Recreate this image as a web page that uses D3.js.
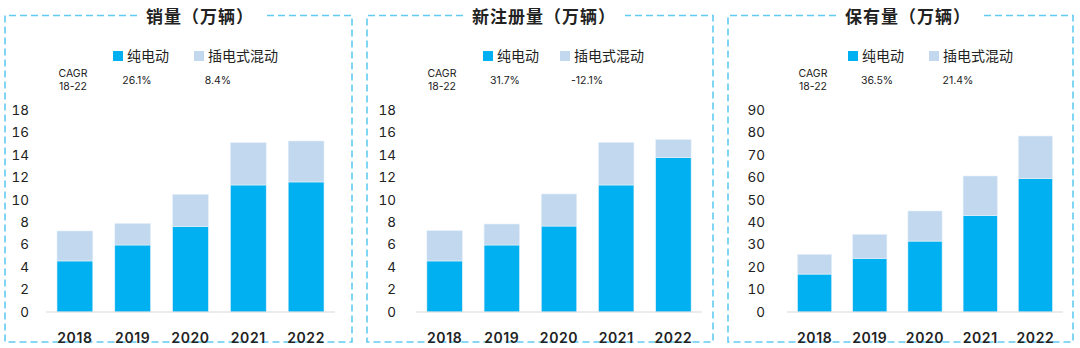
<!DOCTYPE html>
<html>
<head>
<meta charset="utf-8">
<script src="https://cdn.jsdelivr.net/npm/d3@7"></script>
<style>
  body { margin: 0; background: #fff; }
  svg { display: block; font-family: "Inter", "Noto Sans CJK SC", sans-serif; }
</style>
</head>
<body>
<svg id="chart" width="1080" height="348"></svg>
<script>
var years = ["2018", "2019", "2020", "2021", "2022"];
var seriesNames = ["纯电动", "插电式混动"];

// 销量
var salesBev = [4.55, 5.97, 7.6, 11.32, 11.59];
var salesPhev = [2.67, 1.93, 2.89, 3.77, 3.65];
// 新注册量
var regBev = [4.55, 5.97, 7.66, 11.32, 13.75];
var regPhev = [2.7, 1.87, 2.86, 3.8, 1.62];
// 保有量
var stockBev = [16.9, 23.9, 31.6, 42.9, 59.4];
var stockPhev = [8.8, 10.7, 13.4, 17.7, 19.0];

var titles = ["销量（万辆）", "新注册量（万辆）", "保有量（万辆）"];
var cagrLabels = [["26.1%", "8.4%"], ["31.7%", "-12.1%"], ["36.5%", "21.4%"]];
var yMax = [18, 18, 90];
var yStep = [2, 2, 10];

var colors = ["#00b0f0", "#c1d8ee"];

var panels = [
    { bev: salesBev, phev: salesPhev, box: [5, 352], title: 200, legend: [113, 194], cagr: [73, 137, 218], axis: [46, 335], tickRight: 29 },
    { bev: regBev, phev: regPhev, box: [367, 713], title: 544, legend: [483, 560], cagr: [442, 505, 587], axis: [416, 702], tickRight: 396 },
    { bev: stockBev, phev: stockPhev, box: [728, 1073], title: 908, legend: [848, 929], cagr: [813, 877, 958], axis: [787, 1063], tickRight: 765 }
];

var svg = d3.select("#chart");
var boxTop = 15.5, boxBottom = 342, plotBase = 312, plotTop = 110;

panels.forEach(function (p, i) {
    var g = svg.append("g");

    var titleText = g.append("text")
        .attr("x", p.title)
        .attr("y", 23)
        .attr("text-anchor", "middle")
        .attr("font-size", 17)
        .attr("font-weight", 700)
        .attr("letter-spacing", 1)
        .attr("fill", "#222")
        .text(titles[i]);
    var tw = titleText.node().getComputedTextLength();
    var gapL = p.title - tw / 2 - 9, gapR = p.title + tw / 2 + 9;

    // dashed frame, broken around the title
    var framePath = "M" + gapL + "," + boxTop + "H" + p.box[0] + "V" + boxBottom +
        "H" + p.box[1] + "V" + boxTop + "H" + gapR;
    g.append("path")
        .attr("d", framePath)
        .attr("fill", "none")
        .attr("stroke", "#62cbf2")
        .attr("stroke-width", 1.6)
        .attr("stroke-dasharray", "7,4");

    // legend
    seriesNames.forEach(function (name, k) {
        g.append("rect")
            .attr("x", p.legend[k])
            .attr("y", 51)
            .attr("width", 10)
            .attr("height", 10)
            .attr("fill", colors[k]);
        g.append("text")
            .attr("x", p.legend[k] + 14)
            .attr("y", 61)
            .attr("font-size", 14)
            .attr("fill", "#222")
            .text(name);
    });

    // CAGR row
    var cagr = g.append("text")
        .attr("x", p.cagr[0])
        .attr("text-anchor", "middle")
        .attr("font-size", 10.5)
        .attr("fill", "#222");
    cagr.append("tspan").attr("x", p.cagr[0]).attr("y", 77).text("CAGR");
    cagr.append("tspan").attr("x", p.cagr[0]).attr("y", 90).text("18-22");
    cagrLabels[i].forEach(function (t, k) {
        g.append("text")
            .attr("x", p.cagr[k + 1])
            .attr("y", 84)
            .attr("text-anchor", "middle")
            .attr("font-size", 10.5)
            .attr("fill", "#222")
            .text(t);
    });

    var x = d3.scaleBand()
        .domain(years)
        .range(p.axis)
        .paddingInner(0.38)
        .paddingOuter(0.19);

    var y = d3.scaleLinear()
        .domain([0, yMax[i]])
        .range([plotBase, plotTop]);

    var stacked = d3.stack().keys([0, 1])(years.map(function (yr, j) {
        return [p.bev[j], p.phev[j]];
    }));

    g.selectAll("g.layer")
        .data(stacked)
        .enter().append("g")
        .attr("class", "layer")
        .attr("fill", function (d, k) { return colors[k]; })
        .selectAll("rect")
        .data(function (d) { return d; })
        .enter().append("rect")
        .attr("x", function (d, j) { return x(years[j]); })
        .attr("y", function (d) { return y(d[1]); })
        .attr("width", x.bandwidth())
        .attr("height", function (d) { return y(d[0]) - y(d[1]); })
        .attr("stroke", "#e6f1fa")
        .attr("stroke-width", 0.6);

    // baseline
    g.append("line")
        .attr("x1", p.axis[0])
        .attr("x2", p.axis[1])
        .attr("y1", plotBase)
        .attr("y2", plotBase)
        .attr("stroke", "#d9d9d9")
        .attr("stroke-width", 1);

    // y axis labels
    var yAxis = d3.axisLeft(y)
        .tickValues(d3.range(0, yMax[i] + 1, yStep[i]))
        .tickSize(0)
        .tickPadding(0)
        .tickFormat(function (d) { return d > 0 && d < 10 ? "\u2007" + d : d; });
    var ya = g.append("g")
        .attr("transform", "translate(" + p.tickRight + ",0)")
        .call(yAxis);
    ya.select(".domain").remove();
    ya.selectAll("text")
        .attr("font-size", 13.5)
        .attr("font-family", "Inter, sans-serif")
        .attr("fill", "#222")
        .style("font-variant-numeric", "tabular-nums");

    // year labels
    var xAxis = d3.axisBottom(x).tickSize(0).tickPadding(0);
    var xa = g.append("g")
        .attr("transform", "translate(0,333)")
        .call(xAxis);
    xa.select(".domain").remove();
    xa.selectAll("text")
        .attr("font-size", 14)
        .attr("font-weight", 600)
        .attr("letter-spacing", 0.6)
        .attr("font-family", "Inter, sans-serif")
        .attr("fill", "#222");
});
</script>
</body>
</html>
